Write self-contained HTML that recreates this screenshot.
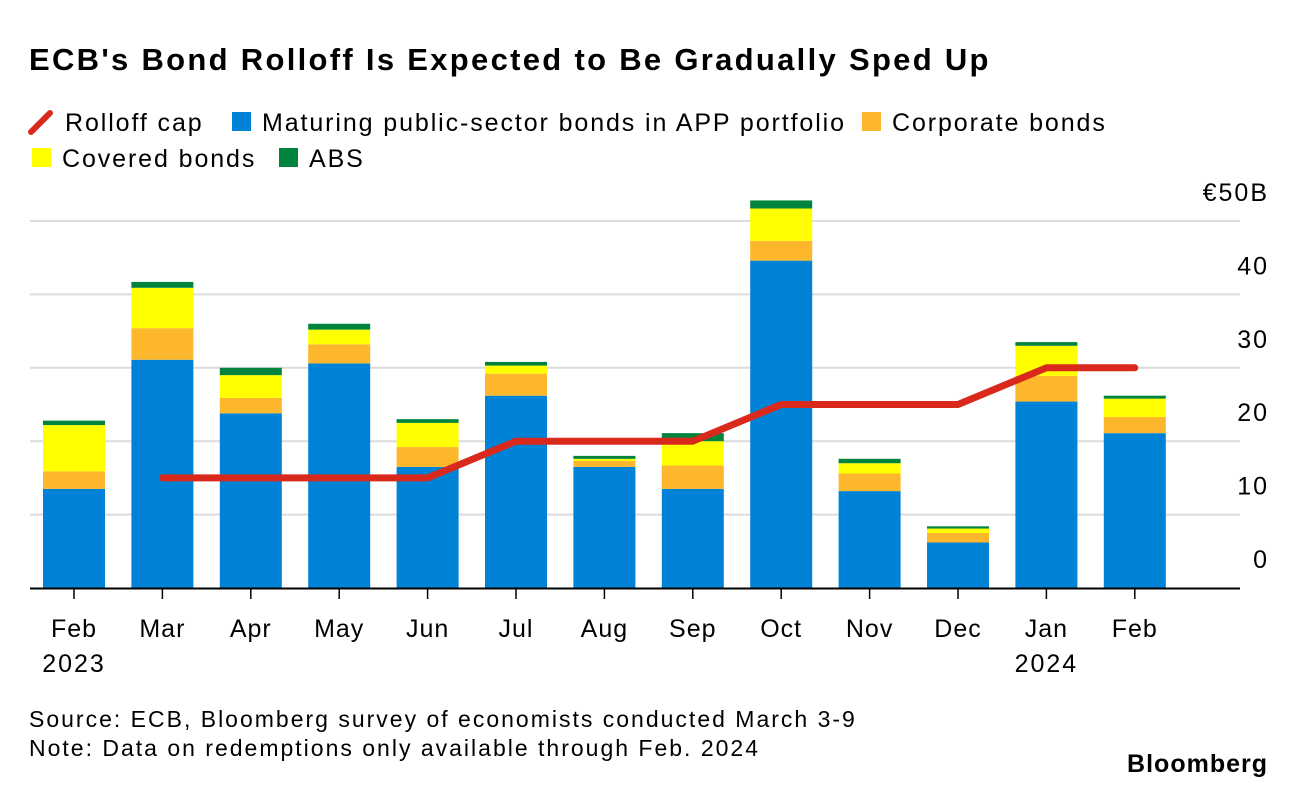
<!DOCTYPE html>
<html><head><meta charset="utf-8"><style>
body{margin:0;background:#fff;font-family:"Liberation Sans",Arial,sans-serif;}
#wrap{position:relative;width:1296px;height:790px;overflow:hidden;}
.t{position:absolute;white-space:nowrap;color:#000;}
</style></head><body>
<div id="wrap">
<div class="t" style="left:29px;top:42px;font-size:31px;font-weight:bold;letter-spacing:2.3px">ECB's Bond Rolloff Is Expected to Be Gradually Sped Up</div>
<svg id="chart" width="1296" height="790" style="position:absolute;left:0;top:0"></svg>
<div class="t" style="left:29px;top:706px;font-size:23px;letter-spacing:2px">Source: ECB, Bloomberg survey of economists conducted March 3-9</div>
<div class="t" style="left:29px;top:735px;font-size:23px;letter-spacing:2px">Note: Data on redemptions only available through Feb. 2024</div>
<div class="t" style="right:28px;top:750px;font-size:25px;font-weight:bold;letter-spacing:1px">Bloomberg</div>
</div>
<script>
const categories=["Feb","Mar","Apr","May","Jun","Jul","Aug","Sep","Oct","Nov","Dec","Jan","Feb"];
const yearLabels=["2023","","","","","","","","","","","2024",""];
const publicBonds=[13.5,31.1,23.8,30.6,16.5,26.2,16.5,13.5,44.6,13.2,6.2,25.4,21.1];
const corporate=[2.4,4.3,2.1,2.6,2.7,3.0,0.8,3.2,2.7,2.4,1.3,3.5,2.2];
const covered=[6.3,5.5,3.1,2.0,3.3,1.1,0.3,3.3,4.4,1.4,0.6,4.1,2.5];
const abs=[0.6,0.8,1.0,0.8,0.5,0.5,0.4,1.1,1.1,0.6,0.3,0.5,0.4];
const rolloffCap=[null,15,15,15,15,20,20,20,25,25,25,30,30];
const yTicks=[0,10,20,30,40,50];
const yTickLabels=["0","10","20","30","40","€50B"];
const NS="http://www.w3.org/2000/svg";
const svg=document.getElementById('chart');
const y0=588,pxPer=7.34,x0=74,step=88.4,bw=62;
const y=v=>y0-v*pxPer;
const x=i=>x0+i*step;
function mk(tag,attrs){const e=document.createElementNS(NS,tag);for(const k in attrs)e.setAttribute(k,attrs[k]);svg.appendChild(e);return e;}
const legend=[["Rolloff cap","line","#d9291c",29,122],["Maturing public-sector bonds in APP portfolio","sq","#0083d7",232,122],["Corporate bonds","sq","#fcb72d",862,122],["Covered bonds","sq","#ffff00",32,158],["ABS","sq","#00843d",279,158]];
legend.forEach(l=>{
  let m;
  if(l[1]=="line"){m=mk('line',{x1:l[3]+2,y1:l[4]+10,x2:l[3]+21,y2:l[4]-9,stroke:l[2],'stroke-width':6,'stroke-linecap':'round'});}
  else{m=mk('rect',{x:l[3],y:l[4]-10,width:19,height:19,fill:l[2]});}
  
  
  const t=mk('text',{x:l[3]+(l[1]=="line"?36:30),y:l[4]+9,'font-size':25,'letter-spacing':'1.9px',fill:'#000'});
  t.textContent=l[0];
  
  
});
yTicks.forEach((v,i)=>{
  if(v>0){const g=mk('line',{x1:30,x2:1240,y1:y(v),y2:y(v),stroke:'#dcdcdc','stroke-width':2});
  
  }
  const t=mk('text',{x:1269,y:y(v)-20,'font-size':25,'letter-spacing':'2px','text-anchor':'end',fill:'#000'});
  t.textContent=yTickLabels[i];
  
  
});
const series=[[publicBonds,'#0083d7'],[corporate,'#fcb72d'],[covered,'#ffff00'],[abs,'#00843d']];
categories.forEach((c,i)=>{
  let base=0;
  series.forEach(s=>{
    const v=s[0][i];
    const r=mk('rect',{x:x(i)-bw/2,y:y(base+v),width:bw,height:v*pxPer,fill:s[1]});
    
    
    base+=v;
  });
  const tk=mk('line',{x1:x(i),x2:x(i),y1:y0,y2:y0+11,stroke:'#000','stroke-width':1.5});
  
  
  const t=mk('text',{x:x(i),y:637,'font-size':25,'letter-spacing':'1px','text-anchor':'middle',fill:'#000'});
  t.textContent=c;
  
  
  if(yearLabels[i]){const yt=mk('text',{x:x(i),y:672,'font-size':25,'letter-spacing':'2px','text-anchor':'middle',fill:'#000'});
  yt.textContent=yearLabels[i];
  
  }
});
const ax=mk('line',{x1:30,x2:1240,y1:y0+0.5,y2:y0+0.5,stroke:'#000','stroke-width':2});


let pts=[];
rolloffCap.forEach((v,i)=>{if(v!==null)pts.push(x(i)+','+y(v));});
const pl=mk('polyline',{points:pts.join(' '),fill:'none',stroke:'#d9291c','stroke-width':7,'stroke-linecap':'round','stroke-linejoin':'round'});


</script>
</body></html>
